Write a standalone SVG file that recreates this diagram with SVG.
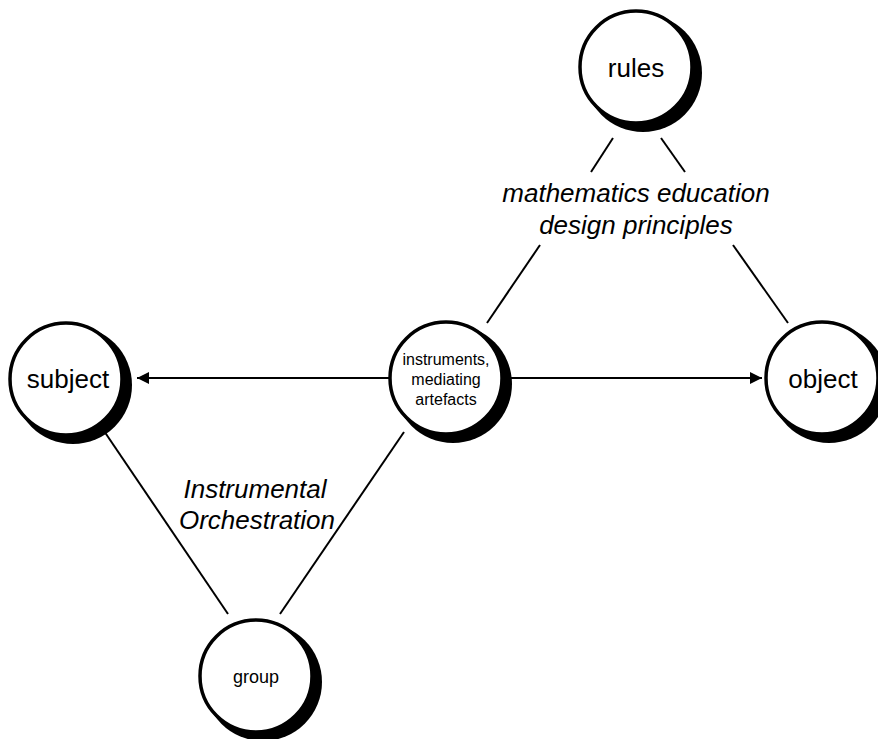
<svg xmlns="http://www.w3.org/2000/svg" width="878" height="739" viewBox="0 0 878 739">
<defs>
<style>
.sh{fill:#000}
.c{fill:#fff;stroke:#000;stroke-width:3.5}
.lbl{font-family:"Liberation Sans",Arial,sans-serif;fill:#000;text-anchor:middle}
.big{font-size:26px}
.it{font-family:"Liberation Sans",Arial,sans-serif;font-style:italic;font-size:26px;text-anchor:middle;fill:#000}
.ln{stroke:#000;stroke-width:2;fill:none}
</style>
<marker id="ah" viewBox="0 0 10 10" refX="10" refY="5" markerWidth="6" markerHeight="6" markerUnits="strokeWidth" orient="auto">
<path d="M0,0 L10,5 L0,10 z" fill="#000"/>
</marker>
</defs>
<g id="connectors">
<line class="ln" x1="613" y1="138" x2="591" y2="172"/>
<line class="ln" x1="661" y1="138" x2="685" y2="172"/>
<line class="ln" x1="540" y1="245" x2="487" y2="323"/>
<line class="ln" x1="733" y1="245" x2="788" y2="323"/>
<line class="ln" x1="102" y1="428" x2="228" y2="614"/>
<line class="ln" x1="404" y1="432" x2="280" y2="614"/>
<line class="ln" x1="390" y1="378" x2="137" y2="378" marker-end="url(#ah)"/>
<line class="ln" x1="510" y1="378" x2="762" y2="378" marker-end="url(#ah)"/>
</g>
<g id="rules">
<circle class="sh" cx="643" cy="73" r="59"/>
<circle class="c" cx="636" cy="67" r="56"/>
<text class="lbl big" x="636" y="77">rules</text>
</g>
<g id="subject">
<circle class="sh" cx="73" cy="385" r="59"/>
<circle class="c" cx="66" cy="379" r="56"/>
<text class="lbl big" x="68" y="388">subject</text>
</g>
<g id="instruments">
<circle class="sh" cx="453" cy="384" r="59"/>
<circle class="c" cx="446" cy="378" r="56"/>
<text class="lbl" font-size="16" x="446" y="365">instruments,</text>
<text class="lbl" font-size="16" x="446" y="385">mediating</text>
<text class="lbl" font-size="16" x="446" y="405">artefacts</text>
</g>
<g id="object">
<circle class="sh" cx="829" cy="384" r="59"/>
<circle class="c" cx="822" cy="378" r="56"/>
<text class="lbl big" x="823" y="388">object</text>
</g>
<g id="group">
<circle class="sh" cx="263" cy="682" r="59"/>
<circle class="c" cx="256" cy="676" r="56"/>
<text class="lbl" font-size="18" x="256" y="683">group</text>
</g>
<g id="labels">
<text class="it" x="636" y="202">mathematics education</text>
<text class="it" x="636" y="234">design principles</text>
<text class="it" x="255" y="498">Instrumental</text>
<text class="it" x="257" y="529">Orchestration</text>
</g>
</svg>
